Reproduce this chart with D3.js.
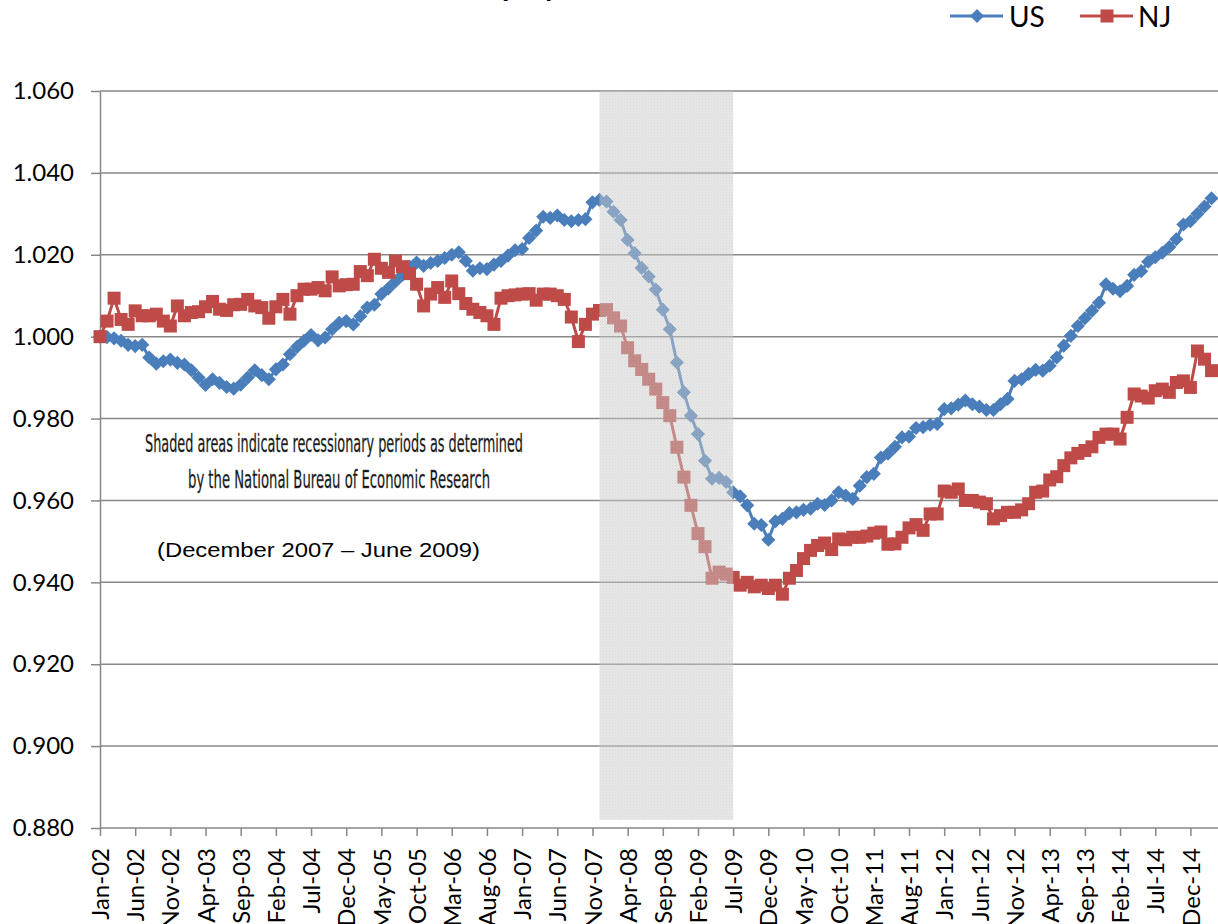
<html>
<head>
<meta charset="utf-8">
<style>
    body { margin:0; background:#fff; }
    text { font-family: Lato, "Open Sans", sans-serif; }
</style>
</head>
<body>
<svg id="plot"></svg>
<script src="https://d3js.org/d3.v7.min.js"></script>
<script>

// month names and years used to build the category labels (Jan-02 ... Mar-15)
var monthNames = ["Jan","Feb","Mar","Apr","May","Jun","Jul","Aug","Sep","Oct","Nov","Dec"];
var years = ["02","03","04","05","06","07","08","09","10","11","12","13","14","15"];

// employment index, Jan 2002 = 1.000
var usValues = [
    1.0000,0.9999,0.9996,0.9990,0.9980,0.9977,0.9980,0.9949,0.9934,0.9940,0.9944,0.9936,
    0.9932,0.9918,0.9900,0.9882,0.9896,0.9887,0.9877,0.9873,0.9883,0.9900,0.9918,0.9906,
    0.9896,0.9920,0.9932,0.9957,0.9975,0.9990,1.0004,0.9991,0.9998,1.0018,1.0034,1.0038,
    1.0030,1.0050,1.0071,1.0078,1.0104,1.0118,1.0135,1.0151,1.0171,1.0181,1.0173,1.0180,
    1.0185,1.0192,1.0200,1.0206,1.0185,1.0161,1.0167,1.0165,1.0176,1.0185,1.0198,1.0211,
    1.0214,1.0241,1.0259,1.0293,1.0290,1.0296,1.0285,1.0282,1.0285,1.0287,1.0328,1.0334,
    1.0330,1.0305,1.0285,1.0236,1.0204,1.0168,1.0147,1.0115,1.0066,1.0018,0.9937,0.9864,
    0.9807,0.9762,0.9697,0.9653,0.9655,0.9645,0.9620,0.9610,0.9588,0.9543,0.9540,0.9504,
    0.9549,0.9555,0.9569,0.9571,0.9577,0.9580,0.9592,0.9589,0.9600,0.9620,0.9612,0.9604,
    0.9636,0.9657,0.9665,0.9705,0.9714,0.9731,0.9754,0.9756,0.9777,0.9779,0.9785,0.9787,
    0.9823,0.9825,0.9834,0.9844,0.9835,0.9829,0.9821,0.9821,0.9835,0.9848,0.9892,0.9896,
    0.9909,0.9919,0.9917,0.9929,0.9949,0.9978,1.0002,1.0026,1.0045,1.0063,1.0083,1.0128,
    1.0117,1.0111,1.0124,1.0151,1.0160,1.0183,1.0194,1.0205,1.0219,1.0238,1.0274,1.0282,
    1.0300,1.0318,1.0338
];

var njValues = [
    1.0000,1.0038,1.0094,1.0042,1.0030,1.0063,1.0051,1.0051,1.0055,1.0038,1.0026,1.0075,
    1.0051,1.0059,1.0061,1.0073,1.0086,1.0067,1.0064,1.0078,1.0079,1.0091,1.0075,1.0071,
    1.0045,1.0073,1.0091,1.0055,1.0100,1.0116,1.0116,1.0120,1.0112,1.0146,1.0124,1.0127,
    1.0128,1.0159,1.0149,1.0189,1.0167,1.0157,1.0185,1.0171,1.0154,1.0128,1.0075,1.0104,
    1.0120,1.0096,1.0136,1.0105,1.0081,1.0067,1.0059,1.0051,1.0030,1.0094,1.0100,1.0102,
    1.0104,1.0105,1.0089,1.0104,1.0104,1.0100,1.0091,1.0048,0.9988,1.0030,1.0055,1.0064,
    1.0066,1.0046,1.0026,0.9973,0.9941,0.9920,0.9896,0.9872,0.9839,0.9807,0.9730,0.9657,
    0.9588,0.9519,0.9487,0.9410,0.9425,0.9420,0.9412,0.9393,0.9400,0.9389,0.9393,0.9385,
    0.9393,0.9371,0.9410,0.9429,0.9458,0.9478,0.9490,0.9496,0.9480,0.9506,0.9504,0.9510,
    0.9510,0.9513,0.9520,0.9523,0.9493,0.9494,0.9510,0.9533,0.9541,0.9527,0.9567,0.9567,
    0.9623,0.9620,0.9628,0.9600,0.9600,0.9596,0.9592,0.9555,0.9563,0.9571,0.9571,0.9577,
    0.9592,0.9620,0.9623,0.9650,0.9658,0.9685,0.9704,0.9715,0.9722,0.9731,0.9754,0.9762,
    0.9762,0.9750,0.9803,0.9860,0.9855,0.9850,0.9868,0.9872,0.9864,0.9888,0.9892,0.9876,
    0.9965,0.9945,0.9917
];

var yTicks = [0.880,0.900,0.920,0.940,0.960,0.980,1.000,1.020,1.040,1.060];

// NBER recession, first and last month shown by the shaded band
var recession = ["Dec-07","Jul-09"];

var noteLines = ["Shaded areas indicate recessionary periods as determined",
                 "by the National Bureau of Economic Research"];
var noteDates = "(December 2007 \u2013 June 2009)";

//build the category list
var categories = [];
years.forEach(function(yr)
{
    monthNames.forEach(function(m)
    {
        categories.push(m+"-"+yr);
    })
})
categories = categories.slice(0,usValues.length);

var screen = {width:1218, height:924};
var margins = {left:100, top:91, bottom:96};
var plotRight = 1240;   //plot area runs past the right edge of the picture
var step = 7.035;       //pixels per month

var svg = d3.select("#plot")
    .attr("width",screen.width)
    .attr("height",screen.height);

var xScale = d3.scaleLinear()
    .domain([0,categories.length-1])
    .range([margins.left, margins.left+step*(categories.length-1)]);

var yScale = d3.scaleLinear()
    .domain([0.880,1.060])
    .range([screen.height-margins.bottom, margins.top]);

//gridlines
svg.append("g")
    .classed("grid",true)
    .selectAll("line")
    .data(yTicks.slice(1))
    .enter()
    .append("line")
    .attr("x1",margins.left)
    .attr("x2",plotRight)
    .attr("y1",function(d){return yScale(d);})
    .attr("y2",function(d){return yScale(d);})
    .attr("stroke","#878787")
    .attr("stroke-width",1.5);

//y axis
var yAxis = svg.append("g")
    .attr("transform","translate("+margins.left+",0)")
    .call(d3.axisLeft(yScale)
        .tickValues(yTicks)
        .tickSize(9)
        .tickSizeOuter(0)
        .tickPadding(17)
        .tickFormat(d3.format(".3f")));

//x axis
var tickIdx = d3.range(0,categories.length,5);
var xAxis = svg.append("g")
    .attr("transform","translate(0,"+yScale(0.880)+")")
    .call(d3.axisBottom(xScale)
        .tickValues(tickIdx)
        .tickSize(8)
        .tickSizeOuter(0)
        .tickFormat(function(i){return categories[i];}));

xAxis.select(".domain")
    .attr("d","M"+margins.left+",0H"+plotRight);

xAxis.selectAll("text")
    .attr("transform","rotate(-90)")
    .attr("text-anchor","end")
    .attr("x",-20)
    .attr("y",0)
    .attr("dy","0.36em");

[xAxis,yAxis].forEach(function(ax)
{
    ax.selectAll(".domain").attr("stroke","#878787").attr("stroke-width",1.5);
    ax.selectAll(".tick line").attr("stroke","#878787").attr("stroke-width",1.5);
    ax.selectAll("text")
        .attr("fill","#000")
        .style("font-family","Lato, sans-serif")
        .style("font-size","24px");
})

//series
var series = [
    {name:"US", values:usValues, color:"#4a7ebb", shape:"diamond"},
    {name:"NJ", values:njValues, color:"#be4b48", shape:"square"}
];

var line = d3.line()
    .x(function(d,i){return xScale(i);})
    .y(function(d){return yScale(d);});

var markerPath = function(shape)
{
    if(shape=="diamond")
        { return d3.symbol().type(d3.symbolSquare).size(100)(); }
    return d3.symbol().type(d3.symbolSquare).size(169)();
}

series.forEach(function(s)
{
    var g = svg.append("g").classed("series",true);

    g.append("path")
        .datum(s.values)
        .attr("d",line)
        .attr("fill","none")
        .attr("stroke",s.color)
        .attr("stroke-width",3)
        .attr("stroke-linejoin","round");

    g.selectAll(".marker")
        .data(s.values)
        .enter()
        .append("path")
        .classed("marker",true)
        .attr("d",markerPath(s.shape))
        .attr("transform",function(d,i)
        {
            var t = "translate("+xScale(i)+","+yScale(d)+")";
            if(s.shape=="diamond") { t += " rotate(45)"; }
            return t;
        })
        .attr("fill",s.color);
})

//recession shading sits on top of the lines
var defs = svg.append("defs");
var pat = defs.append("pattern")
    .attr("id","dots")
    .attr("width",3)
    .attr("height",3)
    .attr("patternUnits","userSpaceOnUse");
pat.append("rect").attr("width",3).attr("height",3).attr("fill","#cecece");
pat.append("rect").attr("width",1).attr("height",1).attr("fill","#b0b0b0");
pat.append("rect").attr("x",1.5).attr("y",1.5).attr("width",1).attr("height",1).attr("fill","#b8b8b8");

var r0 = categories.indexOf(recession[0]);
var r1 = categories.indexOf(recession[1]);

svg.append("rect")
    .attr("x",xScale(r0))
    .attr("width",xScale(r1)-xScale(r0))
    .attr("y",yScale(1.060))
    .attr("height",yScale(0.882)-yScale(1.060))
    .attr("fill","url(#dots)")
    .attr("opacity",0.5);

//notes
var notes = svg.append("g").classed("notes",true);

notes.append("text")
    .text(noteLines[0])
    .attr("x",145)
    .attr("y",452)
    .attr("textLength",378)
    .attr("lengthAdjust","spacingAndGlyphs")
    .style("font-family","'Liberation Sans Narrow', 'DejaVu Sans Condensed', sans-serif")
    .style("font-size","24px")
    .attr("fill","#111")
    .attr("stroke","#555")
    .attr("stroke-width",0.3);

notes.append("text")
    .text(noteLines[1])
    .attr("x",188)
    .attr("y",488)
    .attr("textLength",302)
    .attr("lengthAdjust","spacingAndGlyphs")
    .style("font-family","'Liberation Sans Narrow', 'DejaVu Sans Condensed', sans-serif")
    .style("font-size","24px")
    .attr("fill","#111")
    .attr("stroke","#555")
    .attr("stroke-width",0.3);

notes.append("text")
    .text(noteDates)
    .attr("x",157)
    .attr("y",557)
    .attr("textLength",323)
    .attr("lengthAdjust","spacingAndGlyphs")
    .style("font-family","'Liberation Sans', Arial, sans-serif")
    .style("font-size","20px")
    .attr("fill","#000");

//title, mostly above the top edge
svg.append("text")
    .text("Employment Index")
    .attr("x",460)
    .attr("y",-4)
    .style("font-weight","bold")
    .style("font-size","30px");

//legend
var legendPos = [{x:950, tx:1009}, {x:1080, tx:1138}];
var legend = svg.append("g").classed("legend",true);

series.forEach(function(s,i)
{
    var lg = legend.append("g");
    lg.append("line")
        .attr("x1",legendPos[i].x)
        .attr("x2",legendPos[i].x+53)
        .attr("y1",16)
        .attr("y2",16)
        .attr("stroke",s.color)
        .attr("stroke-width",3);
    lg.append("path")
        .attr("d",markerPath(s.shape))
        .attr("transform","translate("+(legendPos[i].x+27)+",16)"+(s.shape=="diamond"?" rotate(45)":""))
        .attr("fill",s.color);
    lg.append("text")
        .text(s.name)
        .attr("x",legendPos[i].tx)
        .attr("y",27)
        .style("font-size","28px")
        .attr("fill","#000");
})

</script>
</body>
</html>
